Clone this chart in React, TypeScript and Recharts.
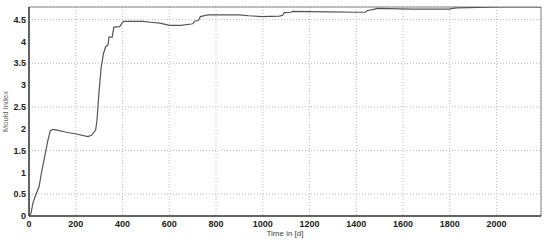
import React from 'react';
import { LineChart, Line, XAxis, YAxis, CartesianGrid, ReferenceLine } from 'recharts';

const days = [0, 8, 17, 30, 43, 53, 67, 81, 91, 100, 110, 160, 202, 252, 267, 278, 285, 291, 299, 309, 319, 328, 338, 342, 356, 363, 388, 399, 405, 487, 520, 560, 601, 650, 694, 702, 710, 725, 733, 765, 900, 940, 998, 1071, 1085, 1092, 1120, 1127, 1284, 1400, 1440, 1447, 1470, 1490, 1640, 1797, 1811, 1830, 2011, 2190];
const mould = [0, 0.05, 0.3, 0.5, 0.67, 0.98, 1.36, 1.74, 1.95, 1.98, 1.98, 1.92, 1.88, 1.82, 1.85, 1.92, 1.97, 2.2, 2.81, 3.42, 3.73, 3.88, 3.92, 4.1, 4.1, 4.33, 4.34, 4.43, 4.46, 4.46, 4.44, 4.42, 4.37, 4.37, 4.4, 4.41, 4.47, 4.48, 4.57, 4.61, 4.61, 4.59, 4.57, 4.58, 4.6, 4.66, 4.67, 4.69, 4.68, 4.67, 4.67, 4.71, 4.73, 4.76, 4.74, 4.74, 4.76, 4.77, 4.79, 4.79];
const xTicks = [0, 200, 400, 600, 800, 1000, 1200, 1400, 1600, 1800, 2000];
const yTicks = [0, 0.5, 1, 1.5, 2, 2.5, 3, 3.5, 4, 4.5];
const xMax = 2190;
const yMax = 4.79;

const data = days.map((d, i) => ({ d, v: mould[i] }));

const tickStyle = { fontFamily: 'Liberation Sans, Arial, sans-serif', fontSize: 9, fontWeight: 700, fill: '#222' };

export default function App() {
  return (
    <div style={{ position: 'absolute', left: 0, top: 0, width: 550, height: 243, background: '#fff' }}>
      <LineChart width={550} height={243} data={data} margin={{ top: 7, right: 9, bottom: 7, left: 0 }}>
        <CartesianGrid stroke="#bbb" strokeDasharray="1 2" />
        <XAxis
          dataKey="d"
          type="number"
          domain={[0, xMax]}
          ticks={xTicks}
          height={20}
          tickLine={false}
          tickSize={0}
          tickMargin={5}
          axisLine={{ stroke: '#333', strokeWidth: 1.5 }}
          tick={tickStyle}
          allowDataOverflow
          label={{ value: 'Time in [d]', position: 'insideBottom', offset: 0, style: { fontFamily: 'Liberation Sans, Arial, sans-serif', fontSize: 8, fill: '#444' } }}
        />
        <YAxis
          type="number"
          domain={[0, yMax]}
          ticks={yTicks}
          width={29}
          tickLine={false}
          tickSize={0}
          tickMargin={3}
          axisLine={{ stroke: '#333', strokeWidth: 1.5 }}
          tick={tickStyle}
          allowDataOverflow
          label={{
            content: (props: any) => {
              const vb = props.viewBox;
              const cx = vb.x + 8;
              const cy = vb.y + vb.height / 2;
              return (
                <text x={cx} y={cy} transform={`rotate(-90 ${cx} ${cy})`} textAnchor="middle" style={{ fontFamily: 'Liberation Sans, Arial, sans-serif', fontSize: 7.5, fill: '#666' }}>
                  Mould Index
                </text>
              );
            },
          }}
        />
        <ReferenceLine y={yMax} stroke="#888" strokeWidth={1} />
        <ReferenceLine x={xMax} stroke="#888" strokeWidth={1} />
        <Line type="linear" dataKey="v" stroke="#555" strokeWidth={1.2} dot={false} isAnimationActive={false} />
      </LineChart>
    </div>
  );
}
